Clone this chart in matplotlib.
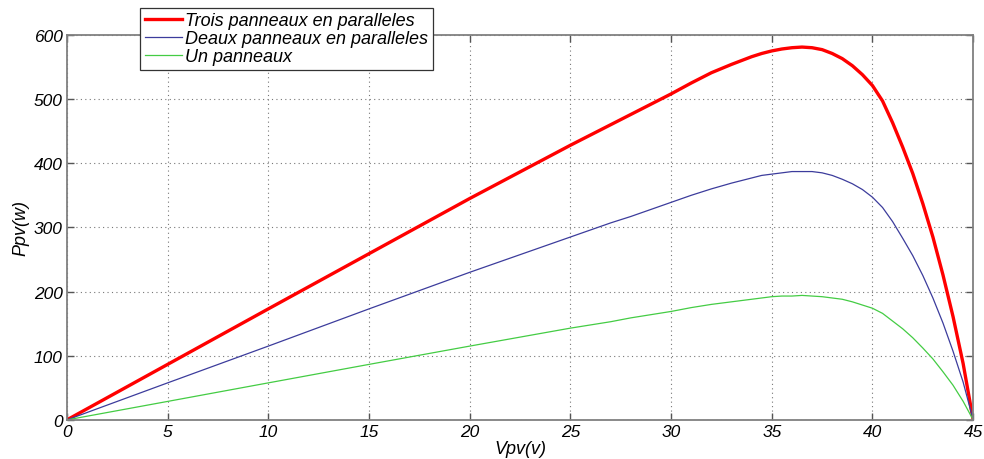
import matplotlib
matplotlib.use("Agg")
import matplotlib.pyplot as plt

plt.rcParams['font.family'] = ['Liberation Sans', 'DejaVu Sans']

V = [0, 5, 10, 15, 20, 25, 26, 27, 28, 29, 30, 31, 32, 33, 34, 34.5, 35, 35.5,
     36, 36.5, 37, 37.5, 38, 38.5, 39, 39.5, 40, 40.5, 41, 41.5, 42, 42.5, 43,
     43.5, 44, 44.5, 45]
P_trois = [0, 86.5, 173, 259, 345, 428, 444, 460, 476, 492, 508, 525, 541, 554,
           566, 571, 575, 578, 580, 581, 580, 577, 571, 563, 552, 538, 521, 497,
           463, 425, 384, 337, 285, 226, 161, 88, 0]
P_deux = [0, 57.7, 115, 173, 230, 285, 296, 307, 317, 328, 339, 350, 360, 369,
          377, 381, 383, 385, 387, 387, 387, 385, 381, 375, 368, 359, 347, 331,
          309, 283, 256, 225, 190, 151, 107, 59, 0]
P_un = [0, 28.8, 57.7, 86.5, 115, 143, 148, 153, 159, 164, 169, 175, 180, 184,
        188, 190, 192, 193, 193, 194, 193, 192, 190, 188, 184, 179, 174, 166,
        154, 142, 128, 112, 95, 75, 54, 29, 0]

labels = ["Trois panneaux en paralleles", "Deaux panneaux en paralleles", "Un panneaux"]
xticks = [0, 5, 10, 15, 20, 25, 30, 35, 40, 45]
yticks = [0, 100, 200, 300, 400, 500, 600]

fig = plt.figure(figsize=(9.84, 4.6), dpi=100)
ax = fig.add_axes([0.068, 0.085, 0.921, 0.837])

l1, = ax.plot(V, P_trois, color='#ff0000', lw=2.4, label=labels[0])
l2, = ax.plot(V, P_deux, color='#3c3c9c', lw=0.9, label=labels[1])
l3, = ax.plot(V, P_un, color='#44cc44', lw=0.9, label=labels[2])

ax.set_xlim(0, 45)
ax.set_ylim(0, 600)
ax.set_xticks(xticks)
ax.set_yticks(yticks)
ax.grid(True, linestyle=(0, (1, 3)), color='#777777', lw=0.8)
for s in ax.spines.values():
    s.set_color('#808080')
    s.set_linewidth(1.3)
ax.tick_params(direction='in', length=5, width=1, color='#555555',
               top=True, right=True, labelsize=12.5, pad=3)
for t in ax.get_xticklabels() + ax.get_yticklabels():
    t.set_fontstyle('italic')

ax.set_xlabel('Vpv(v)', fontsize=13, fontstyle='italic', labelpad=1)
ax.set_ylabel('Ppv(w)', fontsize=13, fontstyle='italic', labelpad=3)

leg = fig.legend(handles=[l1, l2, l3], loc='upper left',
                 bbox_to_anchor=(0.1423, 0.981), frameon=True, fancybox=False,
                 framealpha=1, edgecolor='#333333', handlelength=2.1,
                 handletextpad=0.15, borderpad=0.25, labelspacing=0.05,
                 borderaxespad=0,
                 prop={'size': 13, 'style': 'italic'})
leg.get_frame().set_linewidth(0.9)

fig.savefig('out.png', dpi=100)
